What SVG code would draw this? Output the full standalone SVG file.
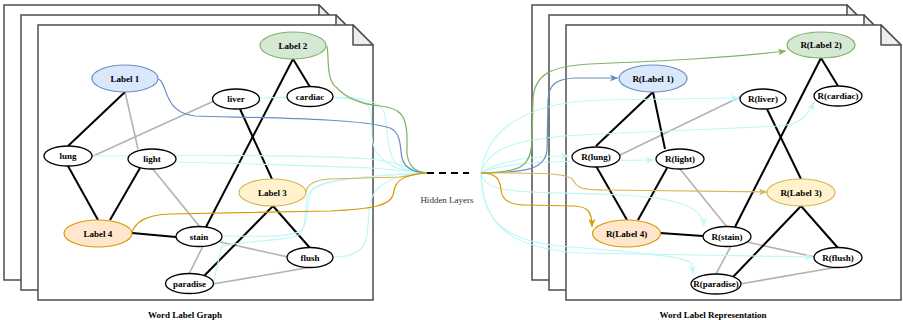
<svg xmlns="http://www.w3.org/2000/svg" width="903" height="320" viewBox="0 0 903 320">
<style>
.page{fill:#fff;stroke:#4d4d4d;stroke-width:1.5}
.fold{fill:#eeeeee;stroke:#4d4d4d;stroke-width:1.5;stroke-linejoin:round}
.blk{stroke:#000;stroke-width:2;fill:none}
.gry{stroke:#b3b3b3;stroke-width:1.6;fill:none}
.cy{stroke:#bdf7f7;stroke-width:1.1;fill:none}
.c1{stroke:#6c8ebf;stroke-width:1.2;fill:none}
.c2{stroke:#82b366;stroke-width:1.2;fill:none}
.c3{stroke:#d6b656;stroke-width:1.2;fill:none}
.c4{stroke:#d79b00;stroke-width:1.2;fill:none}
.w{fill:#fff;stroke:#000;stroke-width:1.3}
.l1{fill:#dae8fc;stroke:#6c8ebf;stroke-width:1.2}
.l2{fill:#d5e8d4;stroke:#82b366;stroke-width:1.2}
.l3{fill:#fff2cc;stroke:#d6b656;stroke-width:1.2}
.l4{fill:#ffe6cc;stroke:#d79b00;stroke-width:1.2}
text{font-family:"Liberation Serif","Times New Roman",serif;font-size:9px;font-weight:bold;fill:#000;text-anchor:middle}
.cap{font-size:9px}
.hid{font-weight:normal;fill:#333;font-size:9px}
</style>
<defs>
<marker id="aCy" markerUnits="userSpaceOnUse" markerWidth="8" markerHeight="7" refX="8" refY="3.5" orient="auto"><path d="M0,0 L8,3.5 L0,7 L2,3.5 Z" fill="#bdf7f7"/></marker>
<marker id="a1" markerUnits="userSpaceOnUse" markerWidth="8" markerHeight="7" refX="8" refY="3.5" orient="auto"><path d="M0,0 L8,3.5 L0,7 L2,3.5 Z" fill="#6c8ebf"/></marker>
<marker id="a2" markerUnits="userSpaceOnUse" markerWidth="8" markerHeight="7" refX="8" refY="3.5" orient="auto"><path d="M0,0 L8,3.5 L0,7 L2,3.5 Z" fill="#82b366"/></marker>
<marker id="a3" markerUnits="userSpaceOnUse" markerWidth="8" markerHeight="7" refX="8" refY="3.5" orient="auto"><path d="M0,0 L8,3.5 L0,7 L2,3.5 Z" fill="#d6b656"/></marker>
<marker id="a4" markerUnits="userSpaceOnUse" markerWidth="8" markerHeight="7" refX="8" refY="3.5" orient="auto"><path d="M0,0 L8,3.5 L0,7 L2,3.5 Z" fill="#d79b00"/></marker>
</defs>

<g id="pages-left">
<path class="page" d="M4,5 L319,5 L339,25 L339,280 L4,280 Z"/><path class="fold" d="M319,5 L319,25 L339,25 Z"/>
<path class="page" d="M21,15 L336,15 L356,35 L356,290 L21,290 Z"/><path class="fold" d="M336,15 L336,35 L356,35 Z"/>
<path class="page" d="M38,25 L353,25 L373,45 L373,300 L38,300 Z"/><path class="fold" d="M353,25 L353,45 L373,45 Z"/>
</g>
<g id="pages-right">
<path class="page" d="M532,5 L847,5 L867,25 L867,280 L532,280 Z"/><path class="fold" d="M847,5 L847,25 L867,25 Z"/>
<path class="page" d="M549,15 L864,15 L884,35 L884,290 L549,290 Z"/><path class="fold" d="M864,15 L864,35 L884,35 Z"/>
<path class="page" d="M566,25 L881,25 L901,45 L901,300 L566,300 Z"/><path class="fold" d="M881,25 L881,45 L901,45 Z"/>
</g>

<g id="connectors">
<!-- left graph edges -->
<g>
<line class="gry" x1="125" y1="92" x2="138" y2="149"/>
<line class="gry" x1="214" y1="101" x2="91" y2="157"/>
<line class="gry" x1="152" y1="168" x2="200" y2="227"/>
<line class="gry" x1="220" y1="242" x2="288" y2="257"/>
<line class="gry" x1="203" y1="246" x2="189" y2="274"/>
<line class="gry" x1="213" y1="284" x2="312" y2="267"/>
<line class="blk" x1="125" y1="92" x2="68" y2="146"/>
<line class="blk" x1="293" y1="59" x2="310" y2="87"/>
<line class="blk" x1="293" y1="59" x2="206" y2="227"/>
<line class="blk" x1="240" y1="109" x2="272" y2="179"/>
<line class="blk" x1="68" y1="166" x2="98" y2="220"/>
<line class="blk" x1="140" y1="168" x2="110" y2="220"/>
<line class="blk" x1="132" y1="233" x2="176" y2="237"/>
<line class="blk" x1="273" y1="206" x2="203" y2="277"/>
<line class="blk" x1="273" y1="206" x2="310" y2="248"/>
</g>
<!-- right graph edges -->
<g>
<line class="gry" x1="740" y1="97" x2="618" y2="156"/>
<line class="gry" x1="680" y1="169" x2="727" y2="227"/>
<line class="gry" x1="747" y1="242" x2="815" y2="257"/>
<line class="gry" x1="731" y1="246" x2="716" y2="274"/>
<line class="gry" x1="740" y1="284" x2="838" y2="267"/>
<line class="blk" x1="653" y1="92" x2="596" y2="146"/>
<line class="blk" x1="653" y1="92" x2="665" y2="149"/>
<line class="blk" x1="821" y1="58" x2="838" y2="86"/>
<line class="blk" x1="821" y1="58" x2="735" y2="227"/>
<line class="blk" x1="767" y1="109" x2="801" y2="179"/>
<line class="blk" x1="596" y1="166" x2="627" y2="220"/>
<line class="blk" x1="667" y1="168" x2="638" y2="220"/>
<line class="blk" x1="660" y1="233" x2="703" y2="236"/>
<line class="blk" x1="801" y1="206" x2="733" y2="277"/>
<line class="blk" x1="801" y1="206" x2="838" y2="248"/>
</g>
<!-- left curves to hidden layers -->
<g>
<path class="cy" d="M259,98 C290,97 340,96 358,100 C372,103 372,115 372,135 C372,160 395,172 427,173"/>
<path class="cy" d="M333,97 C355,97 380,100 384,112 C388,125 386,150 395,162 C403,170 415,173 427,173"/>
<path class="cy" d="M92,156 C200,155 320,155 370,159 C400,162 415,171 427,173"/>
<path class="cy" d="M176,162 C250,164 330,166 370,168 C400,170 415,172 427,173"/>
<path class="cy" d="M222,236 C260,236 292,238 302,230 C309,222 306,200 312,190 C320,180 360,176 427,173"/>
<path class="cy" d="M213,283 C216,276 218,260 222,246 C250,240 290,241 300,234 C307,228 304,205 308,195 C314,183 340,177 427,173"/>
<path class="cy" d="M333,257 C352,257 362,252 366,240 C370,225 366,205 375,192 C384,180 400,174 427,173"/>
<path class="c1" d="M158,79 C168,81 162,113 195,116 C260,118 360,118 390,128 C402,133 400,150 402,158 C405,168 412,172 427,173"/>
<path class="c2" d="M327,46 C329,55 326,80 336,87 C345,97 360,104 380,106 C400,108 406,115 407,135 L407,153 C408,166 415,172 427,173"/>
<path class="c3" d="M306,192 C307,184 314,180 330,179 L400,177 C412,176 420,173 427,173"/>
<path class="c4" d="M132,232 C136,222 145,215 170,214 L330,211 C375,209 390,205 393,195 L395,187 C398,178 410,174 427,173"/>
</g>
<!-- hidden layers dashes -->
<line x1="427" y1="173" x2="469" y2="173" stroke="#000" stroke-width="2" stroke-dasharray="7 5"/>
<!-- right curves from hidden layers -->
<g>
<path class="cy" marker-end="url(#aCy)" d="M481,173 C500,160 530,156 569,156"/>
<path class="cy" marker-end="url(#aCy)" d="M481,173 C500,163 540,161 654,160"/>
<path class="cy" marker-end="url(#aCy)" d="M481,173 C485,140 510,103 600,100 L739,98"/>
<path class="cy" marker-end="url(#aCy)" d="M481,173 C488,148 515,137 600,134 L780,126 C800,124 808,116 814,102"/>
<path class="cy" marker-end="url(#aCy)" d="M481,173 C484,188 500,192 560,193 C640,195 703,196 704,226"/>
<path class="cy" marker-end="url(#aCy)" d="M481,173 C483,222 505,248 580,253 L813,257"/>
<path class="cy" marker-end="url(#aCy)" d="M481,173 C481,215 498,240 560,246 C630,252 688,256 692,264 L693,274"/>
<path class="c1" marker-end="url(#a1)" d="M481,173 C520,172 545,172 547,150 L548,100 C549,85 555,79 575,78 L618,78"/>
<path class="c2" marker-end="url(#a2)" d="M481,173 C520,172 531,168 532,140 L533,100 C534,75 550,66 590,64 C660,61 730,58 786,51"/>
<path class="c3" marker-end="url(#a3)" d="M481,173 C530,173 568,172 573,180 C577,188 582,190 605,190 L767,192"/>
<path class="c4" marker-end="url(#a4)" d="M481,173 C495,173 500,178 501,190 C502,200 510,205 525,205 L575,206 C588,207 592,212 592,227"/>
</g>
</g>

<g id="n-label1"><ellipse class="l1" cx="125" cy="78.5" rx="33" ry="13.5"/><text x="125" y="81.5">Label 1</text></g>
<g id="n-label2"><ellipse class="l2" cx="293" cy="45.5" rx="33" ry="13.5"/><text x="293" y="48.5">Label 2</text></g>
<g id="n-liver"><ellipse class="w" cx="236" cy="99" rx="23.5" ry="10"/><text x="236" y="102">liver</text></g>
<g id="n-cardiac"><ellipse class="w" cx="310" cy="96.5" rx="23" ry="10"/><text x="310" y="99.5">cardiac</text></g>
<g id="n-lung"><ellipse class="w" cx="68" cy="156" rx="24" ry="10"/><text x="68" y="159">lung</text></g>
<g id="n-light"><ellipse class="w" cx="152" cy="159" rx="24" ry="10"/><text x="152" y="162">light</text></g>
<g id="n-label3"><ellipse class="l3" cx="272.5" cy="192.5" rx="33.5" ry="13.5"/><text x="272.5" y="195.5">Label 3</text></g>
<g id="n-label4"><ellipse class="l4" cx="98" cy="233.5" rx="34" ry="13.5"/><text x="98" y="236.5">Label 4</text></g>
<g id="n-stain"><ellipse class="w" cx="199" cy="236.5" rx="23" ry="10"/><text x="199" y="239.5">stain</text></g>
<g id="n-flush"><ellipse class="w" cx="310" cy="257.5" rx="23" ry="10"/><text x="310" y="260.5">flush</text></g>
<g id="n-paradise"><ellipse class="w" cx="189.5" cy="283.5" rx="24" ry="10"/><text x="189.5" y="286.5">paradise</text></g>

<g id="r-label1"><ellipse class="l1" cx="653" cy="78.5" rx="34" ry="13.5"/><text x="653" y="81.5">R(Label 1)</text></g>
<g id="r-label2"><ellipse class="l2" cx="821" cy="45" rx="34" ry="13"/><text x="821" y="48">R(Label 2)</text></g>
<g id="r-liver"><ellipse class="w" cx="763" cy="99" rx="23" ry="10"/><text x="763" y="102">R(liver)</text></g>
<g id="r-cardiac"><ellipse class="w" cx="838" cy="96" rx="24" ry="10"/><text x="838" y="99">R(cardiac)</text></g>
<g id="r-lung"><ellipse class="w" cx="596" cy="157" rx="24" ry="10"/><text x="596" y="160">R(lung)</text></g>
<g id="r-light"><ellipse class="w" cx="680" cy="159" rx="24" ry="10"/><text x="680" y="162">R(light)</text></g>
<g id="r-label3"><ellipse class="l3" cx="801" cy="192.5" rx="34" ry="13.5"/><text x="801" y="195.5">R(Label 3)</text></g>
<g id="r-label4"><ellipse class="l4" cx="626.5" cy="233.5" rx="34" ry="13.5"/><text x="626.5" y="236.5">R(Label 4)</text></g>
<g id="r-stain"><ellipse class="w" cx="727" cy="236.5" rx="24" ry="10"/><text x="727" y="239.5">R(stain)</text></g>
<g id="r-flush"><ellipse class="w" cx="838" cy="257.5" rx="24" ry="10"/><text x="838" y="260.5">R(flush)</text></g>
<g id="r-paradise"><ellipse class="w" cx="716" cy="284" rx="25" ry="10"/><text x="716" y="287">R(paradise)</text></g>

<text class="hid" x="447" y="203">Hidden Layers</text>
<text class="cap" x="185" y="318">Word Label Graph</text>
<text class="cap" x="713" y="318">Word Label Representation</text>
</svg>
